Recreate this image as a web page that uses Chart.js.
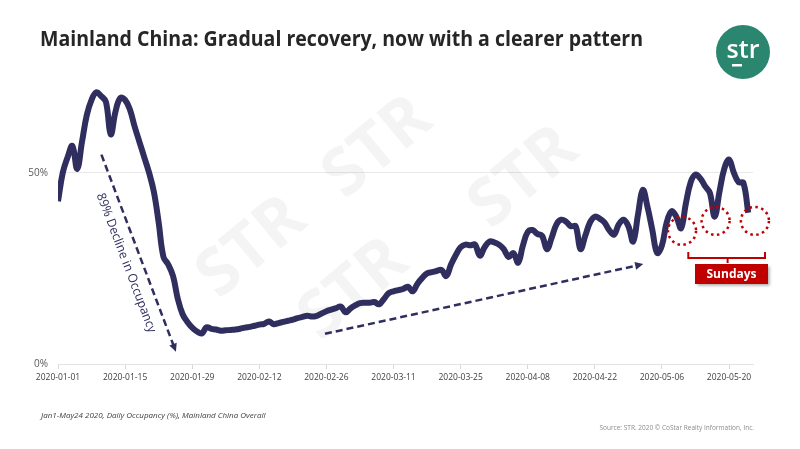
<!DOCTYPE html>
<html>
<head>
<meta charset="utf-8">
<script src="https://cdn.jsdelivr.net/npm/chart.js@4.4.1/dist/chart.umd.min.js"></script>
<style>
  body { margin: 0; background: #fff; }
  #wrap { width: 800px; height: 449px; position: relative; }
</style>
</head>
<body>
<div id="wrap"><canvas id="occChart"></canvas></div>
<script>
// --- dados: ocupação diária (%) de 2020-01-01 a 2020-05-24 ---
const occupancy = [
  42.5, 50, 54, 57, 51, 58, 65, 69, 71, 70,
  68.5, 60, 66, 69.5, 69, 66.5, 62, 58, 54, 50,
  45, 37, 28, 26, 23, 17, 13, 11, 9.5, 8.5,
  8, 9.6, 9.2, 9, 8.7, 8.8, 8.9, 9, 9.2, 9.5,
  9.7, 10, 10.3, 10.5, 11.1, 10.4, 10.7, 11, 11.3, 11.6,
  12, 12.3, 12.6, 12.4, 12.6, 13.2, 13.8, 14.2, 14.6, 15,
  13.5, 14.5, 15.3, 15.9, 16, 16, 16.2, 15.6, 17, 18.5,
  19, 19.3, 19.6, 20.2, 19, 21, 22.5, 23.7, 24, 24.3,
  24.6, 23, 26, 28.5, 30.5, 31.2, 31, 31.2, 28.3, 30.5,
  32, 31.8, 31.2, 30, 28, 29, 26.5, 31, 34.5, 35,
  34, 33.5, 30, 33, 36.5, 37.7, 37.2, 36, 36, 30,
  33.5, 37, 38.5, 38, 37, 35, 33.8, 36.5, 37.7, 36,
  32, 39, 45.5, 41, 35, 29, 31, 37, 39.9, 38.5,
  35.5, 42, 47.5, 49.5, 48.5, 46.5, 44.7, 38.5, 45, 51,
  53.4, 50, 47.5, 47.3, 39.5
];
const tickLabels = ['2020-01-01', '2020-01-15', '2020-01-29', '2020-02-12', '2020-02-26', '2020-03-11',
                    '2020-03-25', '2020-04-08', '2020-04-22', '2020-05-06', '2020-05-20'];
const yTicks = [0, 50];
const sundays = [130, 137, 144];

const NAVY = '#2f2e5f';
const RED = '#c00000';

function arrow(ctx, x1, y1, x2, y2, color) {
    const ang = Math.atan2(y2 - y1, x2 - x1);
    const head = 9;
    ctx.save();
    ctx.strokeStyle = color;
    ctx.lineWidth = 2.5;
    ctx.setLineDash([7, 4]);
    ctx.beginPath();
    ctx.moveTo(x1, y1);
    ctx.lineTo(x2 - Math.cos(ang) * head * 0.8, y2 - Math.sin(ang) * head * 0.8);
    ctx.stroke();
    ctx.setLineDash([]);
    ctx.fillStyle = color;
    ctx.beginPath();
    ctx.moveTo(x2, y2);
    ctx.lineTo(x2 - head * Math.cos(ang - 0.45), y2 - head * Math.sin(ang - 0.45));
    ctx.lineTo(x2 - head * Math.cos(ang + 0.45), y2 - head * Math.sin(ang + 0.45));
    ctx.closePath();
    ctx.fill();
    ctx.restore();
}

// marca d'água "STR" atrás da linha
const watermarkPlugin = {
    id: 'watermark',
    beforeDatasetsDraw(chart) {
        const ctx = chart.ctx;
        const spots = [[252, 248], [378, 148], [354, 290], [524, 178]];
        ctx.save();
        ctx.fillStyle = 'rgba(0,0,0,0.045)';
        ctx.font = 'bold 66px "Open Sans", sans-serif';
        ctx.textAlign = 'center';
        ctx.textBaseline = 'middle';
        spots.forEach(([x, y]) => {
            ctx.save();
            ctx.translate(x, y);
            ctx.rotate(-40 * Math.PI / 180);
            ctx.fillText('STR', 0, 0);
            ctx.restore();
        });
        ctx.restore();
    }
};

// título, logo, anotações e rodapé
const overlayPlugin = {
    id: 'overlay',
    afterDraw(chart) {
        const ctx = chart.ctx;
        const xs = chart.scales.x, ys = chart.scales.y;
        const px = d => xs.getPixelForValue(d);
        const py = v => ys.getPixelForValue(v);

        ctx.save();
        // título
        ctx.fillStyle = '#262626';
        ctx.font = 'bold 22px "Open Sans", sans-serif';
        ctx.textBaseline = 'alphabetic';
        ctx.textAlign = 'left';
        ctx.fillText('Mainland China: Gradual recovery, now with a clearer pattern', 40, 46, 603);

        // logo
        ctx.fillStyle = '#2b8670';
        ctx.beginPath();
        ctx.arc(743, 52, 27, 0, Math.PI * 2);
        ctx.fill();
        ctx.fillStyle = '#fff';
        ctx.font = '600 25px "Open Sans", sans-serif';
        ctx.textAlign = 'center';
        ctx.fillText('str', 743, 58);
        ctx.fillRect(732, 64, 10, 2.5);

        // seta da queda + texto
        arrow(ctx, px(9.06), py(54.7), px(24.6), py(3.2), NAVY);
        const tx1 = px(9.06), ty1 = py(54.7), tx2 = px(24.6), ty2 = py(3.2);
        const ang = Math.atan2(ty2 - ty1, tx2 - tx1);
        ctx.save();
        ctx.translate(px(14.2), py(26.4));
        ctx.rotate(ang);
        ctx.fillStyle = NAVY;
        ctx.font = '12.5px "Open Sans", sans-serif';
        ctx.textAlign = 'center';
        ctx.textBaseline = 'middle';
        ctx.fillText('89% Decline in Occupancy', 0, 0, 148);
        ctx.restore();

        // seta da recuperação
        arrow(ctx, px(55.7), py(7.9), px(122.1), py(26.1), NAVY);

        // círculos pontilhados nos domingos
        ctx.strokeStyle = RED;
        ctx.lineWidth = 2.5;
        ctx.setLineDash([2.5, 3.5]);
        const circ = [[sundays[0], 34.8], [sundays[1], 37.4], [sundays[2], 37.4]];
        circ.forEach(([d, v], i) => {
            ctx.beginPath();
            ctx.arc(px(d + (i === 2 ? 1.4 : 0.2)), py(v), 14, 0, Math.PI * 2);
            ctx.stroke();
        });
        ctx.setLineDash([]);

        // colchete
        ctx.lineWidth = 2;
        const bl = px(131.5), br = px(147.5), bc = px(139.7);
        ctx.beginPath();
        ctx.moveTo(bl, 252); ctx.lineTo(bl, 258); ctx.lineTo(br, 258); ctx.lineTo(br, 252);
        ctx.moveTo(bc, 258); ctx.lineTo(bc, 263);
        ctx.stroke();

        // caixa "Sundays"
        ctx.save();
        ctx.shadowColor = 'rgba(0,0,0,0.35)';
        ctx.shadowBlur = 3;
        ctx.shadowOffsetX = 1.5;
        ctx.shadowOffsetY = 1.5;
        ctx.fillStyle = RED;
        ctx.fillRect(695, 264, 73, 20);
        ctx.restore();
        ctx.fillStyle = '#fff';
        ctx.font = 'bold 12px "Open Sans", sans-serif';
        ctx.textAlign = 'center';
        ctx.textBaseline = 'middle';
        ctx.fillText('Sundays', 731.5, 274.5);

        // rodapé
        ctx.fillStyle = '#404040';
        ctx.font = 'italic 8px "Open Sans", sans-serif';
        ctx.textAlign = 'left';
        ctx.textBaseline = 'middle';
        ctx.fillText('Jan1-May24 2020, Daily Occupancy (%), Mainland China Overall', 41, 416, 241);
        ctx.fillStyle = '#8c8c8c';
        ctx.font = '6.5px "Open Sans", sans-serif';
        ctx.textAlign = 'right';
        ctx.fillText('Source: STR. 2020 \u00A9 CoStar Realty Information, Inc.', 754, 428, 158);
        ctx.restore();
    }
};

new Chart(document.getElementById('occChart').getContext('2d'), {
    type: 'line',
    data: {
        datasets: [{
            data: occupancy.map((v, i) => ({ x: i, y: v })),
            borderColor: NAVY,
            borderWidth: 6,
            pointRadius: 0,
            tension: 0.4,
            fill: false
        }]
    },
    options: {
        responsive: true,
        maintainAspectRatio: false,
        animation: false,
        layout: { padding: { top: 77, right: 47, left: 0, bottom: 0 } },
        plugins: { legend: { display: false }, tooltip: { enabled: false } },
        scales: {
            x: {
                type: 'linear',
                min: 0,
                max: 145,
                afterFit: s => { s.height = 85; },
                afterBuildTicks: s => { s.ticks = tickLabels.map((_, i) => ({ value: i * 14 })); },
                grid: { drawOnChartArea: false, tickLength: 5, color: '#d9d9d9' },
                border: { color: '#e3e3e3' },
                ticks: {
                    maxRotation: 0,
                    autoSkip: false,
                    padding: 3,
                    color: '#404040',
                    font: { size: 8.5, family: '"Open Sans", sans-serif' },
                    callback: v => tickLabels[Math.round(v / 14)]
                }
            },
            y: {
                min: 0,
                max: 75,
                afterFit: s => { s.width = 58; },
                afterBuildTicks: s => { s.ticks = yTicks.map(v => ({ value: v })); },
                grid: { drawTicks: false, color: '#e8e8e8' },
                border: { display: false },
                ticks: {
                    padding: 10,
                    color: '#595959',
                    font: { size: 10, family: '"Open Sans", sans-serif' },
                    callback: v => v + '%'
                }
            }
        }
    },
    plugins: [watermarkPlugin, overlayPlugin]
});
</script>
</body>
</html>
